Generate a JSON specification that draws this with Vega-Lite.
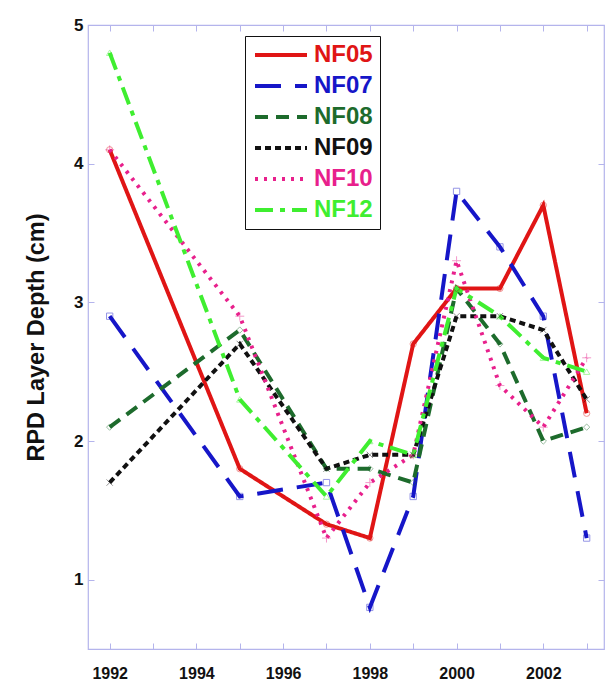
{
  "$schema": "https://vega.github.io/schema/vega-lite/v6.json",
  "width": 516,
  "height": 624,
  "autosize": {"type": "none"},
  "padding": {"left": 88, "top": 25, "right": 4, "bottom": 40},
  "background": "white",
  "config": {
    "font": "Liberation Sans",
    "view": {"stroke": "#b4b4ec", "strokeWidth": 1.2},
    "point": {"filled": false, "size": 40, "strokeWidth": 1, "opacity": 0.45}
  },
  "data": {
    "values": [
      {"site": "NF05", "year": 1992, "depth": 4.1},
      {"site": "NF05", "year": 1995, "depth": 1.8},
      {"site": "NF05", "year": 1997, "depth": 1.4},
      {"site": "NF05", "year": 1998, "depth": 1.3},
      {"site": "NF05", "year": 1999, "depth": 2.7},
      {"site": "NF05", "year": 2000, "depth": 3.1},
      {"site": "NF05", "year": 2001, "depth": 3.1},
      {"site": "NF05", "year": 2002, "depth": 3.7},
      {"site": "NF05", "year": 2003, "depth": 2.2},
      {"site": "NF07", "year": 1992, "depth": 2.9},
      {"site": "NF07", "year": 1995, "depth": 1.6},
      {"site": "NF07", "year": 1997, "depth": 1.7},
      {"site": "NF07", "year": 1998, "depth": 0.8},
      {"site": "NF07", "year": 1999, "depth": 1.6},
      {"site": "NF07", "year": 2000, "depth": 3.8},
      {"site": "NF07", "year": 2001, "depth": 3.4},
      {"site": "NF07", "year": 2002, "depth": 2.9},
      {"site": "NF07", "year": 2003, "depth": 1.3},
      {"site": "NF08", "year": 1992, "depth": 2.1},
      {"site": "NF08", "year": 1995, "depth": 2.8},
      {"site": "NF08", "year": 1997, "depth": 1.8},
      {"site": "NF08", "year": 1998, "depth": 1.8},
      {"site": "NF08", "year": 1999, "depth": 1.7},
      {"site": "NF08", "year": 2000, "depth": 3.1},
      {"site": "NF08", "year": 2001, "depth": 2.7},
      {"site": "NF08", "year": 2002, "depth": 2.0},
      {"site": "NF08", "year": 2003, "depth": 2.1},
      {"site": "NF09", "year": 1992, "depth": 1.7},
      {"site": "NF09", "year": 1995, "depth": 2.7},
      {"site": "NF09", "year": 1997, "depth": 1.8},
      {"site": "NF09", "year": 1998, "depth": 1.9},
      {"site": "NF09", "year": 1999, "depth": 1.9},
      {"site": "NF09", "year": 2000, "depth": 2.9},
      {"site": "NF09", "year": 2001, "depth": 2.9},
      {"site": "NF09", "year": 2002, "depth": 2.8},
      {"site": "NF09", "year": 2003, "depth": 2.3},
      {"site": "NF10", "year": 1992, "depth": 4.1},
      {"site": "NF10", "year": 1995, "depth": 2.9},
      {"site": "NF10", "year": 1997, "depth": 1.3},
      {"site": "NF10", "year": 1998, "depth": 1.7},
      {"site": "NF10", "year": 1999, "depth": 1.9},
      {"site": "NF10", "year": 2000, "depth": 3.3},
      {"site": "NF10", "year": 2001, "depth": 2.4},
      {"site": "NF10", "year": 2002, "depth": 2.1},
      {"site": "NF10", "year": 2003, "depth": 2.6},
      {"site": "NF12", "year": 1992, "depth": 4.8},
      {"site": "NF12", "year": 1995, "depth": 2.3},
      {"site": "NF12", "year": 1997, "depth": 1.6},
      {"site": "NF12", "year": 1998, "depth": 2.0},
      {"site": "NF12", "year": 1999, "depth": 1.9},
      {"site": "NF12", "year": 2000, "depth": 3.1},
      {"site": "NF12", "year": 2001, "depth": 2.9},
      {"site": "NF12", "year": 2002, "depth": 2.6},
      {"site": "NF12", "year": 2003, "depth": 2.5}
    ]
  },
  "layer": [
    {
      "mark": {"type": "line", "strokeWidth": 4, "strokeCap": "butt", "strokeJoin": "miter"},
      "encoding": {
        "x": {
          "field": "year", "type": "quantitative",
          "scale": {"domain": [1991.5, 2003.4], "nice": false, "zero": false},
          "axis": {"orient": "bottom", "title": null, "domain": false, "grid": false,
                   "values": [1992,1993,1994,1995,1996,1997,1998,1999,2000,2001,2002,2003],
                   "labelExpr": "datum.value % 2 == 0 ? format(datum.value, 'd') : ''",
                   "tickSize": -6, "tickColor": "#b4b4ec", "tickWidth": 1,
                   "labelFontSize": 16, "labelFontWeight": "bold", "labelColor": "#111111",
                   "labelPadding": 22, "labelFlush": false}
        },
        "y": {
          "field": "depth", "type": "quantitative",
          "scale": {"domain": [0.5, 5], "nice": false, "zero": false},
          "axis": {"orient": "left", "title": "RPD Layer Depth (cm)", "domain": false, "grid": false,
                   "values": [1, 2, 3, 4, 5],
                   "tickSize": -6, "tickColor": "#b4b4ec", "tickWidth": 1,
                   "labelFontSize": 17, "labelFontWeight": "bold", "labelColor": "#111111",
                   "labelPadding": 11, "labelFlush": false,
                   "titleFontSize": 23.5, "titleFontWeight": "bold", "titleColor": "#111111",
                   "titlePadding": 25}
        },
        "color": {
          "field": "site", "type": "nominal",
          "scale": {"domain": ["NF05","NF07","NF08","NF09","NF10","NF12"],
                    "range": ["#e01515","#1616c8","#1d6b2c","#111111","#e8208c","#3fee30"]},
          "legend": {
            "title": null, "orient": "none", "legendX": 157, "legendY": 11,
            "direction": "vertical",
            "fillColor": "white", "strokeColor": "#111111",
            "padding": 7, "rowPadding": 7,
            "symbolType": "M-2.6,0H2.6", "symbolSize": 400, "symbolStrokeWidth": 4,
            "symbolOffset": 17, "labelOffset": 21,
            "labelFontSize": 24, "labelFontWeight": "bold",
            "labelColor": {"expr": "scale('color', datum.value)"}
          }
        },
        "strokeDash": {
          "field": "site", "type": "nominal",
          "scale": {"domain": ["NF05","NF07","NF08","NF09","NF10","NF12"],
                    "range": [[1, 0], [26, 14], [13, 8], [6, 4], [3, 6], [18, 7, 5, 7]]}
        }
      }
    },
    {
      "transform": [{"filter": "datum.site == 'NF05'"}],
      "mark": {"type": "point", "shape": "circle", "color": "#e01515"},
      "encoding": {
        "x": {
          "field": "year", "type": "quantitative",
          "axis": {"orient": "top", "title": null, "labels": false, "domain": false, "grid": false,
                   "values": [1992,1993,1994,1995,1996,1997,1998,1999,2000,2001,2002,2003],
                   "tickSize": -6, "tickColor": "#b4b4ec", "tickWidth": 1}
        },
        "y": {
          "field": "depth", "type": "quantitative",
          "axis": {"orient": "right", "title": null, "labels": false, "domain": false, "grid": false,
                   "values": [1, 2, 3, 4, 5], "tickSize": -6, "tickColor": "#b4b4ec", "tickWidth": 1}
        }
      }
    },
    {
      "transform": [{"filter": "datum.site == 'NF07'"}],
      "mark": {"type": "point", "shape": "square", "color": "#1616c8"},
      "encoding": {
        "x": {"field": "year", "type": "quantitative", "axis": null},
        "y": {"field": "depth", "type": "quantitative", "axis": null}
      }
    },
    {
      "transform": [{"filter": "datum.site == 'NF08'"}],
      "mark": {"type": "point", "shape": "diamond", "color": "#1d6b2c"},
      "encoding": {
        "x": {"field": "year", "type": "quantitative", "axis": null},
        "y": {"field": "depth", "type": "quantitative", "axis": null}
      }
    },
    {
      "transform": [{"filter": "datum.site == 'NF09'"}],
      "mark": {"type": "point", "shape": "M-1,-1L1,1M-1,1L1,-1", "color": "#111111"},
      "encoding": {
        "x": {"field": "year", "type": "quantitative", "axis": null},
        "y": {"field": "depth", "type": "quantitative", "axis": null}
      }
    },
    {
      "transform": [{"filter": "datum.site == 'NF10'"}],
      "mark": {"type": "point", "shape": "M-1,0H1M0,-1V1", "color": "#e8208c", "size": 80},
      "encoding": {
        "x": {"field": "year", "type": "quantitative", "axis": null},
        "y": {"field": "depth", "type": "quantitative", "axis": null}
      }
    },
    {
      "transform": [{"filter": "datum.site == 'NF12'"}],
      "mark": {"type": "point", "shape": "triangle-up", "color": "#3fee30"},
      "encoding": {
        "x": {"field": "year", "type": "quantitative", "axis": null},
        "y": {"field": "depth", "type": "quantitative", "axis": null}
      }
    }
  ],
  "resolve": {"axis": {"x": "independent", "y": "independent"}}
}
